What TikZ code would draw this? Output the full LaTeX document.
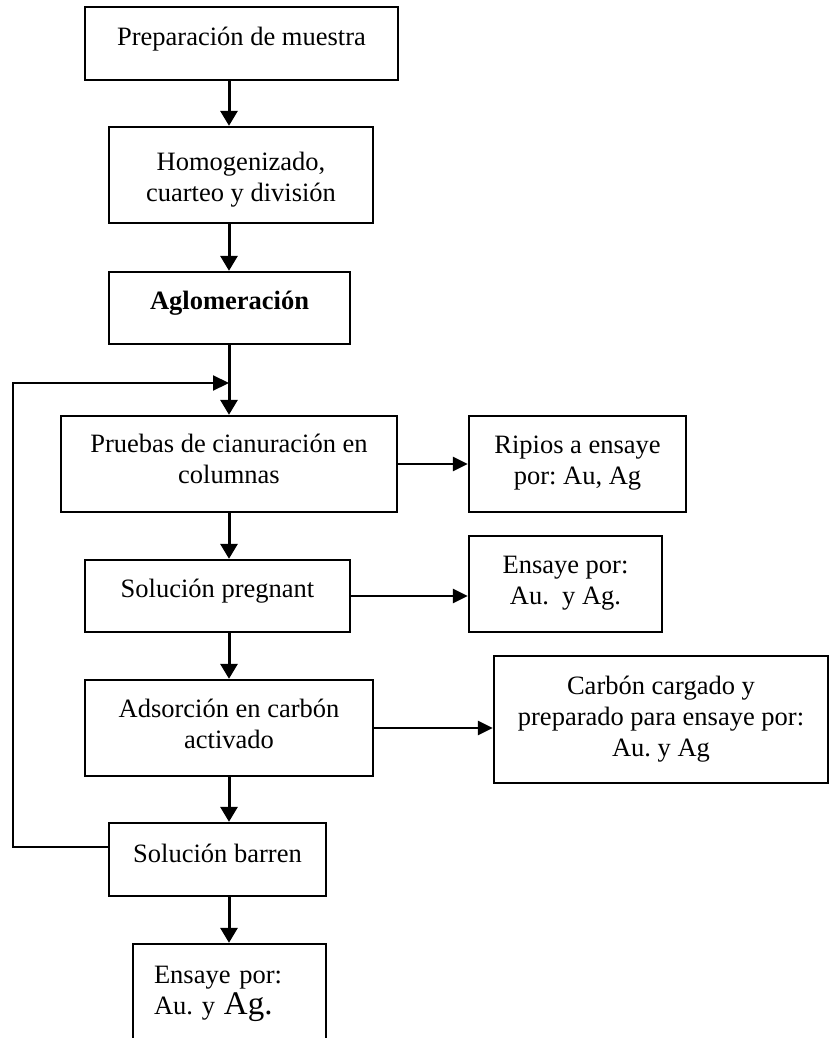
\documentclass[tikz,border=0pt]{standalone}
\usepackage{fontspec}
\setmainfont{Liberation Serif}
\usetikzlibrary{arrows.meta}
\frenchspacing
% centred / left-aligned stack of lines, lifted inside its box
% (the lifted box keeps its own height and depth)
\newcommand\liftc[2]{\raisebox{#1}[\height][\depth]{\begin{tabular}{@{}c@{}}#2\end{tabular}}}
\newcommand\liftl[2]{\raisebox{#1}[\height][\depth]{\begin{tabular}{@{}l@{}}#2\end{tabular}}}

\begin{document}
\begin{tikzpicture}[x=1pt,y=-1pt,
  stage/.style={draw, line width=2.4pt, inner sep=0pt,
                font=\fontsize{26.5}{31}\selectfont},
  flow/.style={line width=3pt, -{Triangle[length=15pt,width=17pt]}},
  side/.style={line width=2.6pt, -{Triangle[length=15pt,width=14pt]}},
  loopline/.style={line width=2.2pt, -{Triangle[length=16pt,width=15pt]}}]

\clip (0,0) rectangle (830,1038);
\fill[white] (0,0) rectangle (830,1038);

% main column
\node[stage, minimum width=313pt, minimum height=73pt] (prep) at (241.5,43.5)
  {\liftc{4.5pt}{Preparación de muestra}};
\node[stage, minimum width=264pt, minimum height=96pt] (homog) at (241,175)
  {\liftc{-4.5pt}{Homogenizado,\\cuarteo y división}};
\node[stage, minimum width=241pt, minimum height=72pt] (aglo) at (229.5,308)
  {\liftc{5pt}{\textbf{Aglomeración}}};
\node[stage, minimum width=336pt, minimum height=96pt] (cian) at (229,464)
  {\liftc{2pt}{Pruebas de cianuración en\\columnas}};
\node[stage, minimum width=265pt, minimum height=72pt] (preg) at (217.5,596)
  {\liftc{4.5pt}{Solución pregnant}};
\node[stage, minimum width=288pt, minimum height=96pt] (ads) at (229,728)
  {\liftc{1pt}{Adsorción en carbón\\activado}};
\node[stage, minimum width=217pt, minimum height=73pt] (barr) at (217.5,859.5)
  {\liftc{3pt}{Solución barren}};
\node[stage, minimum width=193pt, minimum height=130pt, text width=151pt,
      inner xsep=21pt, align=left] (fin) at (229.5,1009)
  {\liftl{16pt}{Ensaye por:\\Au. y {\fontsize{33}{31}\selectfont Ag.}}};

% side products
\node[stage, minimum width=217pt, minimum height=96pt] (ripios) at (577.5,464)
  {\liftc{1pt}{Ripios a ensaye\\por: Au, Ag}};
\node[stage, minimum width=193pt, minimum height=96pt] (ens) at (565.5,584)
  {\liftc{1.5pt}{Ensaye por:\\Au.\ \ y Ag.}};
\node[stage, minimum width=334pt, minimum height=127pt] (carb) at (661,719.5)
  {\liftc{0.5pt}{Carbón cargado y\\preparado para ensaye por:\\Au. y Ag}};

% vertical axis of the flow and the recycle junction
\coordinate (axis) at (229,0);
\coordinate (merge) at (229,383);
\coordinate (fb) at (13,383);

\draw[flow] (prep.south -| axis) -- (homog.north -| axis);
\draw[flow] (homog.south -| axis) -- (aglo.north -| axis);
\draw[flow] (aglo.south -| axis) -- (cian.north -| axis);
\draw[flow] (cian.south -| axis) -- (preg.north -| axis);
\draw[flow] (preg.south -| axis) -- (ads.north -| axis);
\draw[flow] (ads.south -| axis) -- (barr.north -| axis);
\draw[flow] (barr.south -| axis) -- (fin.north -| axis);

\draw[side] (cian.east) -- (cian.east -| ripios.west);
\draw[side] (preg.east) -- (preg.east -| ens.west);
\draw[side] (ads.east) -- (ads.east -| carb.west);

% barren solution recycled to the columns
\draw[loopline] ([yshift=12.5pt]barr.west) -| (fb) -- (merge);
\end{tikzpicture}
\end{document}
